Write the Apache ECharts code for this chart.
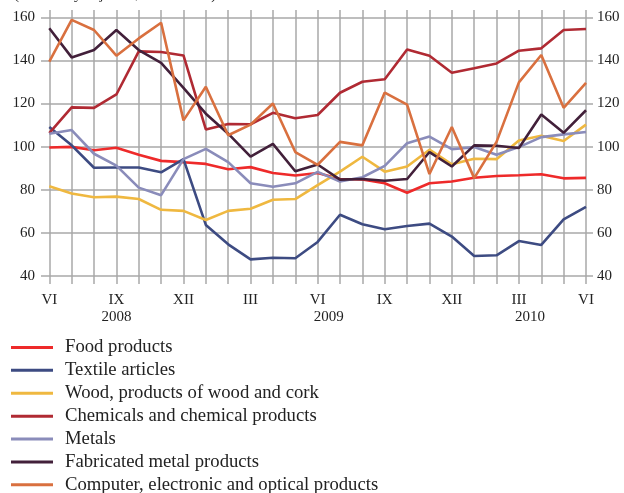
<!DOCTYPE html>
<html>
<head>
<meta charset="utf-8">
<script src="https://cdn.jsdelivr.net/npm/echarts@6/dist/echarts.min.js"></script>
<style>
  html, body { margin: 0; padding: 0; background: #fff; }
  #chart { width: 624px; height: 493px; }
</style>
</head>
<body>
<div id="chart"></div>
<script>
// months VI 2008 .. VI 2010
var months = ['VI','VII','VIII','IX','X','XI','XII','I','II','III','IV','V','VI',
              'VII','VIII','IX','X','XI','XII','I','II','III','IV','V','VI'];
// year label: [text, first month index, last month index]
var years = [['2008', 0, 6], ['2009', 7, 18], ['2010', 19, 24]];

var names = [
	'Food products',
	'Textile articles',
	'Wood, products of wood and cork',
	'Chemicals and chemical products',
	'Metals',
	'Fabricated metal products',
	'Computer, electronic and optical products'
];

var food = [99.6, 99.9, 98.3, 99.5, 96.2, 93.4, 92.8, 92.0, 89.5, 90.5, 87.8, 86.6, 87.8,
            85.0, 84.8, 83.0, 78.6, 83.0, 83.8, 85.6, 86.4, 86.7, 87.2, 85.3, 85.5];
var textile = [109.1, 100.6, 90.2, 90.3, 90.3, 88.1, 94.2, 63.7, 54.7, 47.7, 48.5, 48.2, 55.8,
               68.4, 64.0, 61.7, 63.2, 64.3, 58.3, 49.3, 49.6, 56.2, 54.4, 66.3, 72.1];
var wood = [81.6, 78.3, 76.5, 76.8, 75.7, 70.7, 70.2, 66.0, 70.2, 71.2, 75.4, 75.7, 82.2,
            88.4, 95.3, 88.4, 90.8, 98.6, 91.8, 94.4, 94.2, 102.9, 105.1, 102.6, 110.2];
var chemicals = [106.3, 118.2, 118.0, 124.2, 144.2, 143.9, 142.3, 108.0, 110.5, 110.4, 115.7, 113.2, 114.7,
                 125.0, 130.1, 131.3, 145.1, 142.2, 134.3, 136.4, 138.6, 144.5, 145.6, 154.1, 154.6];
var metals = [106.0, 107.7, 96.7, 91.2, 81.0, 77.5, 94.2, 99.0, 92.8, 83.0, 81.4, 83.0, 88.3,
              83.8, 85.8, 91.1, 101.6, 104.7, 98.8, 99.8, 96.2, 99.8, 104.4, 105.7, 106.8];
var fabricated = [154.9, 141.4, 144.8, 154.1, 144.8, 138.9, 127.3, 115.3, 106.0, 95.4, 101.3, 88.6, 91.7,
                  84.7, 85.0, 84.2, 85.0, 97.5, 90.8, 100.6, 100.4, 99.4, 114.9, 106.4, 116.9];
var computer = [139.4, 158.8, 154.1, 142.2, 150.2, 157.5, 112.2, 127.8, 105.3, 110.2, 120.0, 97.5, 91.6,
                102.2, 100.6, 125.1, 119.5, 87.3, 109.1, 85.4, 102.2, 129.8, 142.5, 118.0, 129.6];

var colors = ['#ee2a2a', '#3d4b82', '#efb840', '#b02a33', '#8a8cba', '#42203a', '#d9703f'];
var values = [food, textile, wood, chemicals, metals, fabricated, computer];

var serif = '"Liberation Serif", "DejaVu Serif", serif';
var gridColor = '#a8a8a8';

var chart = echarts.init(document.getElementById('chart'));

var series = [];
for (var i = 0; i < names.length; i++) {
	series.push({
		name: names[i],
		type: 'line',
		xAxisIndex: 0,
		yAxisIndex: 0,
		data: values[i],
		symbol: 'none',
		animation: false,
		lineStyle: { width: 2.6, color: colors[i] },
		itemStyle: { color: colors[i] }
	});
}

var option = {
	animation: false,
	color: colors,
	grid: [
		// data grid, its vertical lines reach a bit above and below the value range
		{ left: 49.3, right: 38, top: 10, bottom: 209 },
		// background grid with horizontal lines and the value labels
		{ left: 41, right: 31, top: 17.3, bottom: 217 }
	],
	xAxis: [
		{
			gridIndex: 0,
			type: 'category',
			boundaryGap: false,
			data: months,
			axisLine: { show: false },
			axisTick: { show: false },
			axisLabel: {
				interval: 2,
				margin: 9,
				fontFamily: serif,
				fontSize: 15,
				color: '#222'
			},
			splitLine: { show: true, interval: 0, lineStyle: { color: gridColor, width: 1.5 } }
		},
		{ gridIndex: 1, type: 'value', min: 0, max: 1, show: false }
	],
	yAxis: [
		{
			gridIndex: 0,
			type: 'value',
			min: 40 - 8 / 2.156,
			max: 160 + 7.3 / 2.156,
			show: false
		},
		{
			gridIndex: 1,
			type: 'value',
			min: 40,
			max: 160,
			interval: 20,
			position: 'left',
			axisLine: { show: false },
			axisTick: { show: false },
			axisLabel: { margin: 6, fontFamily: serif, fontSize: 15, color: '#222' },
			splitLine: { show: true, lineStyle: { color: gridColor, width: 1.5 } }
		},
		{
			gridIndex: 1,
			type: 'value',
			min: 40,
			max: 160,
			interval: 20,
			position: 'right',
			axisLine: { show: false },
			axisTick: { show: false },
			axisLabel: { margin: 4, fontFamily: serif, fontSize: 15, color: '#222' },
			splitLine: { show: false }
		}
	],
	legend: {
		orient: 'vertical',
		left: 11,
		top: 336,
		width: 600,
		height: 170,
		padding: 0,
		itemGap: 0,
		itemWidth: 42,
		itemHeight: 3,
		icon: 'rect',
		data: names,
		textStyle: {
			fontFamily: serif,
			fontSize: 18.7,
			lineHeight: 22.9,
			color: '#222',
			padding: [0, 0, 0, 7]
		}
	},
	series: series
};

chart.setOption(option);

// years under the month labels, centred on the months of each year
var graphics = [{
	type: 'text',
	left: 14,
	top: -12,
	style: {
		text: '(seasonally adjusted, 2005 = 100)',
		font: '15px ' + serif,
		fill: '#222'
	}
}];
for (var k = 0; k < years.length; k++) {
	var a = chart.convertToPixel({ xAxisIndex: 0 }, years[k][1]);
	var b = chart.convertToPixel({ xAxisIndex: 0 }, years[k][2]);
	graphics.push({
		type: 'text',
		x: (a + b) / 2,
		y: 317,
		style: {
			text: years[k][0],
			font: '15px ' + serif,
			fill: '#222',
			align: 'center',
			verticalAlign: 'middle'
		}
	});
}
chart.setOption({ graphic: graphics });
</script>
</body>
</html>
